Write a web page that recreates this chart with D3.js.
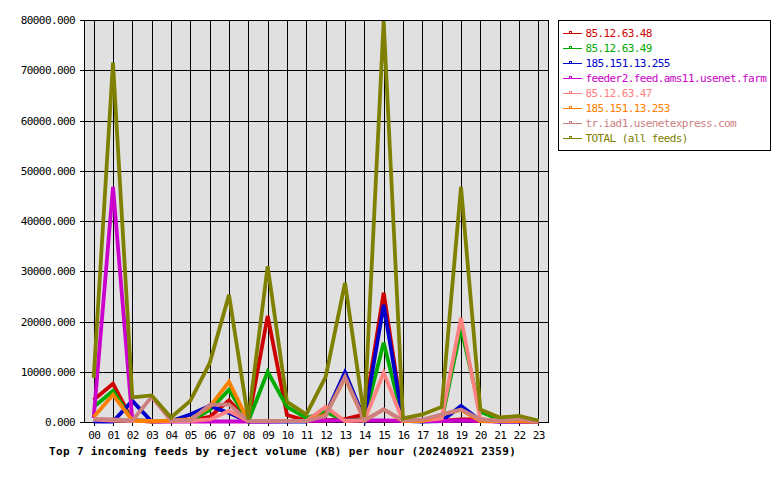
<!DOCTYPE html>
<html>
<head>
<meta charset="utf-8">
<script src="https://cdn.jsdelivr.net/npm/d3@7"></script>
<style>
  body { margin: 0; background: #fff; }
  svg { display: block; }
  text { font-family: "DejaVu Sans Mono", monospace; }
</style>
</head>
<body>
<svg id="chart" width="780" height="480"></svg>
<script>
"use strict";

// hours on the x axis
var hours = ["00","01","02","03","04","05","06","07","08","09","10","11",
             "12","13","14","15","16","17","18","19","20","21","22","23"];

var feedNames = ["85.12.63.48", "85.12.63.49", "185.151.13.255",
                 "feeder2.feed.ams11.usenet.farm", "85.12.63.47",
                 "185.151.13.253", "tr.iad1.usenetexpress.com", "TOTAL (all feeds)"];

var feedColors = ["#cc0000", "#00aa00", "#0000cc", "#cc00cc",
                  "#ff8080", "#ff8000", "#cc8080", "#808000"];

// reject volume (KB) per hour
var v48    = [4400, 7600, 300, 200, 200, 300, 1000, 4300, 200, 21100, 1400, 300,
              300, 600, 1500, 25700, 300, 200, 200, 500, 500, 200, 200, 100];
var v49    = [3000, 6200, 300, 200, 200, 200, 2400, 6400, 200, 10000, 3000, 800,
              2000, 300, 500, 15800, 300, 200, 300, 18700, 2000, 500, 200, 100];
var v255   = [100, 100, 4200, 100, 200, 1500, 3200, 1800, 100, 100, 100, 100,
              1500, 9900, 600, 23300, 200, 100, 200, 3200, 300, 100, 100, 100];
var vFarm  = [800, 46800, 300, 100, 100, 100, 100, 100, 100, 100, 200, 200,
              300, 300, 300, 300, 200, 200, 200, 300, 200, 100, 100, 100];
var v47    = [500, 300, 200, 200, 200, 200, 500, 2200, 200, 200, 200, 200,
              3000, 200, 300, 9800, 200, 300, 700, 20700, 500, 200, 200, 100];
var v253   = [1000, 5400, 300, 100, 300, 500, 3000, 8000, 200, 200, 200, 200,
              1500, 8800, 300, 2500, 200, 200, 1500, 2400, 200, 200, 200, 100];
var vIad1  = [600, 500, 300, 5000, 300, 300, 3400, 3500, 200, 200, 200, 200,
              1200, 9000, 300, 2500, 300, 500, 1500, 2500, 500, 300, 600, 100];
var vTotal = [8800, 71500, 4900, 5300, 900, 4200, 11700, 25300, 500, 31000, 4000, 1500,
              9000, 27700, 1000, 79800, 700, 1500, 3000, 46800, 2500, 900, 1200, 300];

var yTicks = [0, 10000, 20000, 30000, 40000, 50000, 60000, 70000, 80000];

var title = "Top 7 incoming feeds by reject volume (KB) per hour (20240921 2359)";

var seriesValues = [v48, v49, v255, vFarm, v47, v253, vIad1, vTotal];

var plotLeft = 84, plotTop = 20, plotRight = 548, plotBottom = 422;
var w = plotRight - plotLeft, h = plotBottom - plotTop;

var svg = d3.select("#chart");
svg.append("rect").attr("width", 780).attr("height", 480).attr("fill", "#fff");

var x = d3.scalePoint().domain(hours).range([0, w]).padding(0.5);
var y = d3.scaleLinear().domain([0, 80000]).range([h, 0]);

var plot = svg.append("g").attr("transform", "translate(" + plotLeft + "," + plotTop + ")");

plot.append("rect")
    .attr("width", w).attr("height", h)
    .attr("fill", "#e0e0e0");

// y axis + horizontal grid
var yAxis = plot.append("g")
    .call(d3.axisLeft(y).tickValues(yTicks).tickFormat(d3.format(".3f"))
          .tickSize(4).tickPadding(5));
yAxis.select(".domain").remove();
yAxis.selectAll(".tick line").attr("x2", -4).attr("x1", w)
    .attr("stroke", "#000").attr("shape-rendering", "crispEdges");
yAxis.selectAll("text")
    .attr("font-size", 11).attr("letter-spacing", -0.6)
    .attr("font-family", "DejaVu Sans Mono").attr("fill", "#000");

// x axis + vertical grid
var xAxis = plot.append("g")
    .attr("transform", "translate(0," + h + ")")
    .call(d3.axisBottom(x).tickSize(4).tickPadding(5));
xAxis.select(".domain").remove();
xAxis.selectAll(".tick line").attr("y1", -h).attr("y2", 4)
    .attr("stroke", "#000").attr("shape-rendering", "crispEdges");
xAxis.selectAll("text")
    .attr("font-size", 11).attr("letter-spacing", -0.6)
    .attr("font-family", "DejaVu Sans Mono").attr("fill", "#000");

plot.append("rect")
    .attr("width", w).attr("height", h)
    .attr("fill", "none").attr("stroke", "#000").attr("stroke-width", 1)
    .attr("shape-rendering", "crispEdges");

var line = d3.line()
    .x(function (d, i) { return x(hours[i]); })
    .y(function (d) { return y(d); });

plot.selectAll("path.feed")
    .data(seriesValues)
    .enter()
    .append("path")
    .attr("class", "feed")
    .attr("d", line)
    .attr("fill", "none")
    .attr("stroke", function (d, i) { return feedColors[i]; })
    .attr("stroke-width", 3.8)
    .attr("stroke-linejoin", "miter");

// legend
var legend = svg.append("g").attr("transform", "translate(558.5,20.5)");
legend.append("rect")
    .attr("width", 212).attr("height", 130)
    .attr("fill", "#fff").attr("stroke", "#000")
    .attr("shape-rendering", "crispEdges");

var item = legend.selectAll("g.item")
    .data(feedNames)
    .enter()
    .append("g")
    .attr("class", "item")
    .attr("transform", function (d, i) { return "translate(0," + (13 + i * 15) + ")"; });

item.append("line")
    .attr("x1", 4).attr("x2", 23).attr("y1", 0).attr("y2", 0)
    .attr("shape-rendering", "crispEdges")
    .attr("stroke", function (d, i) { return feedColors[i]; });
item.append("rect")
    .attr("x", 11).attr("y", -2).attr("width", 2).attr("height", 2)
    .attr("fill", "none")
    .attr("shape-rendering", "crispEdges")
    .attr("stroke", function (d, i) { return feedColors[i]; });
item.append("text")
    .attr("x", 27).attr("y", 0).attr("dy", "0.36em")
    .attr("font-size", 11).attr("letter-spacing", -0.6)
    .attr("fill", function (d, i) { return feedColors[i]; })
    .text(function (d) { return d; });

svg.append("text")
    .attr("x", 49).attr("y", 455)
    .attr("font-size", 11).attr("font-weight", "bold").attr("letter-spacing", 0.35)
    .attr("fill", "#000")
    .text(title);
</script>
</body>
</html>
